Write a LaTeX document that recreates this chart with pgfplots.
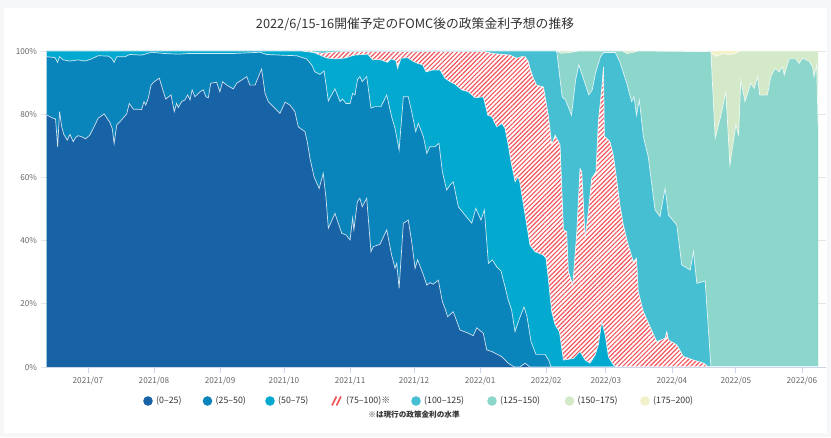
\documentclass[border=0pt]{standalone}
\usepackage{fontspec}
\setmainfont{Noto Sans CJK JP}
\usepackage{pgfplots}
\pgfplotsset{compat=1.18}
\usepackage{pgfplotstable}
\usetikzlibrary{patterns.meta}

\definecolor{cA}{HTML}{1863A6}
\definecolor{cB}{HTML}{0A85BB}
\definecolor{cC}{HTML}{03A9CE}
\definecolor{hatchred}{HTML}{F2555C}
\definecolor{cE}{HTML}{47BFD3}
\definecolor{cF}{HTML}{8DD6CB}
\definecolor{cG}{HTML}{D3E9C7}
\definecolor{cH}{HTML}{F3F1C9}
\definecolor{bggray}{HTML}{F6F7F9}
\definecolor{axisc}{HTML}{CCD6EB}
\definecolor{gridc}{HTML}{E6E6E6}
\definecolor{labc}{HTML}{666666}
\definecolor{txtc}{HTML}{333333}

% cumulative boundaries (percent), x = days from 2021-07-01
\pgfplotstableread{
x y
-19.2 100
342.6 100
}\tH

\pgfplotstableread{
x y
-19.2 100
292 100
293 99
295 98.3
298 99.2
301 98.8
304 99.3
306 100
342.6 100
}\tG

\pgfplotstableread{
x y
-19.2 100
220 100
222 99.3
226 99.5
230 100
251 100
253 99.2
256 99.6
258 100
292.3 99.8
294.3 72.4
297.0 79.7
299.3 87.1
301.2 63.9
304.0 76.6
305.3 73.4
306.3 90.8
308.3 84.0
311.0 89.8
312.6 88.2
314.2 91.9
315.2 86.1
318.8 86.1
320.4 91.9
322.4 94.5
324.3 93.4
325.9 95.0
326.7 92.4
329.0 97.5
332.2 97.5
333.7 96.1
335.3 97.7
338.4 96.8
340.0 95.0
340.7 91.9
341.9 95.6
342.6 76.6
}\tF

\pgfplotstableread{
x y
-19.2 100
219.8 100
220.1 99.2
222.5 85.5
224.1 84.5
226.9 79.7
228.8 90.8
230.3 95.6
232.7 90.8
235.0 86.1
236.6 87.7
238.1 92.9
240.5 98.2
242.0 99.5
244.4 99.5
247.5 99.5
249.6 96.5
252.8 89.8
255.1 84.0
256.2 85.5
257.4 79.7
258.7 84.5
260.6 72.9
262.9 66.5
266.1 49.7
268.4 47.6
270.8 56.5
272.4 48.1
276.3 44.9
278.6 32.3
282.6 30.7
284.1 36.5
285.7 26.5
289.6 27.2
292.3 0
342.6 0
}\tE

\pgfplotstableread{
x y
-19.2 100
104 100
106.1 99.6
110 99.3
114 99.6
120 99.8
186 99.8
190 99.2
198 98.7
201.2 97.7
203.5 98.2
205.1 98.2
206.7 96.6
207.4 94.5
209.0 91.4
210.5 89.2
213.7 88.6
216.0 79.7
217.6 70.3
219.2 73.4
221.5 70.3
223.1 43.4
224.6 42.8
225.4 30.2
227.5 25.9
229.4 42.8
230.9 62.8
231.7 61.8
233.3 40.7
234.8 49.1
236.4 59.7
238.4 61.8
239.5 77.6
241.1 88.2
241.9 95.0
242.3 73.0
243.4 72.4
244.9 71.3
246.5 67.0
248.0 59.7
249.6 51.3
251.2 44.9
253.5 38.6
255.9 33.3
257.4 34.4
258.2 23.8
260.6 17.5
263.7 12.8
266.9 8.0
270.8 9.1
271.6 11.2
272.4 8.5
276.3 7.0
279.4 3.3
284.1 2.2
288.9 1.2
291.2 0
342.6 0
}\tD

\pgfplotstableread{
x y
-19.2 100
100 100
106 99.5
108.9 98.7
112 97.8
116 97.5
121 97.8
124 98.5
125.3 98.7
131.3 99.0
133.6 97.2
137.5 97.2
140.6 96.4
142.2 97.5
144.5 97.0
145.3 94.5
146.9 97.7
150.0 97.9
152.4 96.8
154.7 96.1
157.1 95.6
158.6 93.4
161.8 94.0
165.2 94.0
167.5 91.4
169.9 90.3
172.2 89.5
175.4 87.7
178.5 87.1
181.6 85.2
185.5 85.5
187.6 79.7
189.5 79.2
191.8 76.0
194.2 77.1
195.7 75.5
197.2 70.3
198.0 67.0
198.8 63.9
199.8 60.8
200.4 58.6
201.8 60.2
202.6 58.6
207.4 38.6
209.7 36.5
213.7 35.4
214.9 34.4
216.0 28.0
217.6 17.5
219.2 13.3
221.2 11.2
223.1 2.2
227.8 2.7
230.9 4.9
233.3 2.2
235.6 1.2
238.0 3.8
239.5 7.0
241.1 14.3
242.7 10.1
244.2 3.3
246.6 0.6
248 0
342.6 0
}\tC

\pgfplotstableread{
x y
-19.2 98.2
-15.5 97.9
-14.2 96.4
-13.3 98.2
-11.6 97.2
-8.4 96.8
-4.6 97.2
-1.4 96.8
1.7 97.5
4.8 98.5
9.5 98.4
11.1 97.7
12.3 96.4
13.5 98.2
17.4 98.2
19.7 98.9
25.2 98.7
29.9 99.6
36.1 99.2
42.4 99.0
47.1 99.2
54.9 99.2
68.0 99.2
80.7 99.6
83.9 98.9
90.1 98.7
97.9 98.5
102.6 97.5
105.0 95.6
106.5 93.4
108.9 92.6
110.8 93.7
112.8 84.2
115.9 88.0
118.3 84.0
119.5 84.8
121.1 83.4
123.0 83.4
124.2 86.6
125.3 86.1
126.5 91.0
127.6 91.9
128.7 90.3
130.8 91.9
132.8 81.9
134.7 82.4
137.5 82.4
140.2 86.1
142.5 79.2
144.1 75.5
146.0 68.7
148.0 85.5
150.3 85.5
151.9 80.8
153.8 74.5
155.0 77.1
157.4 72.9
159.0 67.6
160.5 69.7
162.8 69.7
164.7 70.8
166.3 61.8
168.3 56.0
169.9 57.6
171.4 58.6
173.8 50.7
176.9 48.1
180.1 45.5
182.0 50.2
184.4 46.5
186.0 49.7
187.9 32.8
189.7 33.9
191.8 31.7
193.8 30.4
195.7 25.4
197.2 21.2
198.8 18.0
200.4 11.2
202.3 15.0
204.6 19.0
206.0 16.0
207.9 8.0
210.2 4.0
214.5 4.0
216.3 2.0
217.3 0
342.6 0
}\tB

\pgfplotstableread{
x y
-19.2 79.7
-16.3 78.7
-15.2 78.5
-14.2 69.7
-13.3 80.8
-12.3 76.0
-11.3 73.6
-9.7 71.8
-8.4 73.6
-6.9 71.3
-5.8 72.6
-4.6 73.2
-3.0 72.9
-1.1 72.2
0.9 73.4
3.3 76.6
4.8 78.7
7.6 80.1
10.3 77.4
11.4 75.5
12.3 70.7
13.5 76.6
15.8 78.2
18.2 80.1
19.4 83.4
21.3 81.6
25.2 81.5
26.3 84.0
27.1 82.9
28.3 85.0
29.6 89.2
31.1 90.3
33.5 91.4
34.9 88.2
36.5 84.8
39.0 86.1
40.5 80.8
41.6 83.4
42.4 82.1
44.0 84.0
45.5 84.5
46.8 86.1
47.9 84.5
48.9 87.7
50.2 85.5
52.6 87.1
54.1 87.7
55.4 85.5
56.5 85.2
57.6 89.8
60.4 90.1
61.9 87.1
63.2 90.3
65.1 89.2
68.2 88.0
69.8 89.8
72.1 90.8
74.5 91.9
76.0 89.2
78.4 89.2
81.5 94.3
83.1 86.6
84.6 84.0
87.0 82.4
90.1 80.3
92.5 83.8
94.8 82.9
97.1 80.8
98.7 76.0
101.8 74.5
102.9 71.3
104.2 66.0
106.1 60.2
108.5 56.5
110.4 61.3
111.7 53.4
112.8 43.9
115.9 48.6
119.1 42.3
121.1 41.8
123.0 40.2
124.2 47.1
124.8 43.4
126.4 52.3
127.6 53.4
128.7 50.7
130.8 53.4
132.8 36.5
133.9 38.1
137.0 38.8
140.2 43.4
142.5 35.4
144.1 31.2
144.9 32.8
146.0 24.9
148.0 45.5
150.3 46.5
151.9 39.7
153.5 31.2
154.7 33.9
157.4 29.1
159.0 25.9
160.5 26.7
162.0 26.2
164.4 27.5
166.3 20.7
167.5 18.6
168.8 15.9
171.4 17.5
174.6 11.7
178.5 10.7
180.8 9.9
182.4 12.4
185.5 10.7
187.1 5.4
189.5 4.9
194.1 3.3
197.2 1.2
200.1 0
202.7 0
205.1 1.2
207.4 0
342.6 0
}\tA

\begin{document}
\begin{tikzpicture}[x=1pt,y=1pt]
\useasboundingbox (0,0) rectangle (831,437);
\fill[bggray] (0,0) rectangle (831,437);
\fill[white] (4,4) rectangle (827,429);

\node[text=txtc, font=\fontsize{12.8}{15}\selectfont] at (415,413) {2022/6/15-16開催予定のFOMC後の政策金利予想の推移};

\begin{axis}[
  at={(47pt,70pt)}, anchor=south west,
  scale only axis, width=779pt, height=316pt,
  xmin=-19.2, xmax=346.3, ymin=0, ymax=100,
  axis line style={draw=none},
  xtick={0,31,62,92,123,153,184,215,243,274,304,335},
  xticklabels={2021/07,2021/08,2021/09,2021/10,2021/11,2021/12,2022/01,2022/02,2022/03,2022/04,2022/05,2022/06},
  ytick={0,20,40,60,80,100},
  yticklabels={0\%,20\%,40\%,60\%,80\%,100\%},
  xtick pos=bottom, ytick pos=left,
  tick align=outside,
  major tick length=6pt,
  x tick style={draw=axisc, line width=0.8pt},
  y tick style={draw=gridc, line width=0.8pt},
  ymajorgrids, grid style={draw=gridc, line width=0.6pt},
  ticklabel style={text=labc, font=\fontsize{8.2}{10}\selectfont},
  xticklabel style={yshift=-0.5pt},
  yticklabel style={xshift=-0.5pt},
]
\addplot[fill=cH, draw=none] table {\tH} \closedcycle;
\addplot[fill=cG, draw=none] table {\tG} \closedcycle;
\addplot[white, opacity=0.8, line width=0.7pt] table {\tG};
\addplot[fill=cF, draw=none] table {\tF} \closedcycle;
\addplot[white, opacity=0.8, line width=0.7pt] table {\tF};
\addplot[fill=cE, draw=none] table {\tE} \closedcycle;
\addplot[white, opacity=0.8, line width=0.7pt] table {\tE};
\addplot[fill=white, draw=none] table {\tD} \closedcycle;
\addplot[draw=none, pattern={Lines[angle=45,distance=3.2pt,line width=1.15pt]}, pattern color=hatchred] table {\tD} \closedcycle;
\addplot[white, opacity=0.8, line width=0.7pt] table {\tD};
\addplot[fill=cC, draw=none] table {\tC} \closedcycle;
\addplot[white, opacity=0.8, line width=0.7pt] table {\tC};
\addplot[fill=cB, draw=none] table {\tB} \closedcycle;
\addplot[white, opacity=0.8, line width=0.7pt] table {\tB};
\addplot[fill=cA, draw=none] table {\tA} \closedcycle;
\addplot[white, opacity=0.8, line width=0.7pt] table {\tA};
\draw[axisc, line width=0.8pt] (axis cs:-19.2,0) -- (axis cs:346.3,0);
\end{axis}

% legend
\begin{scope}[font=\fontsize{8.8}{10}\selectfont]
\fill[cA] (148,36) circle (4.8);
\node[anchor=west, text=txtc, inner sep=0] at (156,36) {(0–25)};
\fill[cB] (207.5,36) circle (4.8);
\node[anchor=west, text=txtc, inner sep=0] at (215.5,36) {(25–50)};
\fill[cC] (270,36) circle (4.8);
\node[anchor=west, text=txtc, inner sep=0] at (278,36) {(50–75)};
\draw[hatchred, line width=1.6pt] (332,31.5) -- (336.5,40.5);
\draw[hatchred, line width=1.6pt] (336.5,31.5) -- (341,40.5);
\node[anchor=west, text=txtc, inner sep=0] at (346,36) {(75–100)※};
\fill[cE] (416,36) circle (4.8);
\node[anchor=west, text=txtc, inner sep=0] at (424,36) {(100–125)};
\fill[cF] (492,36) circle (4.8);
\node[anchor=west, text=txtc, inner sep=0] at (500,36) {(125–150)};
\fill[cG] (569.5,36) circle (4.8);
\node[anchor=west, text=txtc, inner sep=0] at (577.5,36) {(150–175)};
\fill[cH] (645,36) circle (4.8);
\node[anchor=west, text=txtc, inner sep=0] at (653,36) {(175–200)};
\end{scope}
\node[text=txtc, font=\fontsize{7.6}{9}\selectfont\bfseries] at (414,22.5) {※は現行の政策金利の水準};
\end{tikzpicture}
\end{document}
